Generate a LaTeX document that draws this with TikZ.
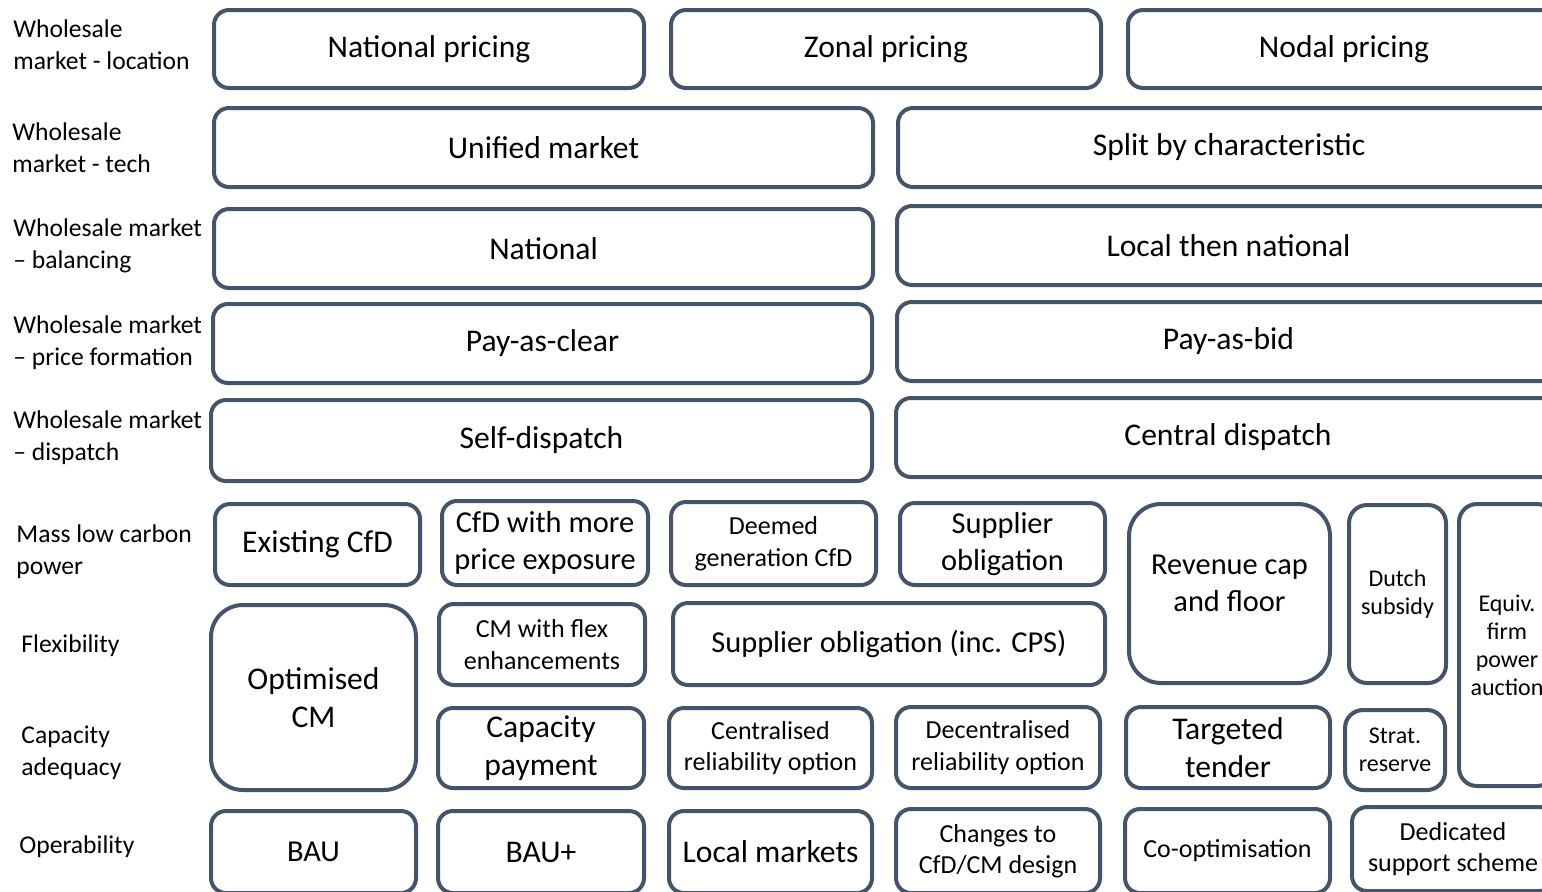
\documentclass[tikz,border=0pt]{standalone}
\usepackage{fontspec}
\setmainfont{Carlito}
\usepackage{tikz}

\definecolor{boxline}{HTML}{44546A}
\newcommand{\bigtxt}{\fontsize{15.8}{19}\selectfont}
\newcommand{\bigishtxt}{\fontsize{15.2}{18.4}\selectfont}
\newcommand{\midtxt}{\fontsize{13}{15.8}\selectfont}
\newcommand{\smalltxt}{\fontsize{12}{14}\selectfont}
\newcommand{\labtxt}{\fontsize{12.8}{16}\selectfont}

\tikzset{
    box/.style={draw=boxline,line width=2pt,rounded corners=7.5pt,inner sep=0pt,align=center,font=\bigtxt},
    roundbox/.style={box,rounded corners=16pt},
    slimbox/.style={box,rounded corners=9pt},
    dims/.style 2 args={minimum width=#1*0.5pt,minimum height=#2*0.5pt},
    rowlab/.style={anchor=west,align=left,inner sep=0pt,font=\labtxt}
}

\begin{document}
\begin{tikzpicture}[x=0.5pt,y=-0.5pt]
    \useasboundingbox (0,0) rectangle (1542,891);
    \clip (0,0) rectangle (1542,891);

    \node [rowlab] (lloc) at (13,44.5) {Wholesale\\market - location};
    \node [rowlab] (ltech) at (12,147.5) {Wholesale\\market - tech};
    \node [rowlab] (lbal) at (13,246) {Wholesale market\\– balancing};
    \node [rowlab] (lprice) at (13,342.5) {Wholesale market\\– price formation};
    \node [rowlab] (ldisp) at (13,438) {Wholesale market\\– dispatch};
    \node [rowlab] (lmass) at (16,552) {Mass low carbon\\power};
    \node [rowlab] (lflex) at (21,645.5) {Flexibility};
    \node [rowlab] (lcap) at (21,753) {Capacity\\adequacy};
    \node [rowlab] (lops) at (19,847) {Operability};

    \node [box,dims={430}{78}] (natprice) at (429,49) {National pricing};
    \node [box,dims={430}{78}] (zonprice) at (886,49) {Zonal pricing};
    \node [box,dims={432}{78}] (nodprice) at (1344,49) {Nodal pricing};

    \node [box,dims={659}{79}] (unified) at (543.5,147.5) {Unified market};
    \node [box,dims={662}{79}] (splitchar) at (1229,147.5) {Split by characteristic};

    \node [box,dims={659}{79}] (natbal) at (543.5,248.5) {National};
    \node [box,dims={663}{79}] (localnat) at (1228.5,245.5) {Local then national};

    \node [box,dims={659}{79}] (payclear) at (542.5,343.5) {Pay-as-clear};
    \node [box,dims={663}{79}] (paybid) at (1228.5,341.5) {Pay-as-bid};

    \node [box,dims={661}{81}] (selfdisp) at (541.5,440.5) {Self-dispatch};
    \node [box,dims={664}{79}] (centdisp) at (1228,437.5) {Central dispatch};

    \node [box,dims={205}{81}] (existcfd) at (317.5,544.5) {Existing CfD};
    \node [box,font=\bigishtxt,dims={206}{84}] (cfdmore) at (545,543) {CfD with more\\price exposure};
    \node [box,font=\midtxt,dims={205}{83}] (deemed) at (773.5,543.5) {Deemed\\generation CfD};
    \node [box,font=\bigishtxt,dims={205}{82}] (supob) at (1002.5,544) {Supplier\\obligation};
    \node [roundbox,dims={201}{179}] (revcap) at (1229.5,593.5) {};
    \node [font=\bigishtxt,align=center,inner sep=0pt] (revcaptxt) at (1229.5,583) {Revenue cap\\and floor};
    \node [slimbox,font=\smalltxt,dims={97}{178}] (dutch) at (1397.5,594) {Dutch\\subsidy};
    \node [slimbox,font=\smalltxt,dims={96}{282}] (equiv) at (1507,645) {Equiv.\\firm\\power\\auction};

    \node [roundbox,dims={205}{185}] (optcm) at (313.5,697.5) {Optimised\\CM};
    \node [box,font=\midtxt,dims={206}{81}] (cmflex) at (542,644.5) {CM with flex\\enhancements};
    \node [box,font=\bigishtxt,dims={432}{82}] (supobcps) at (889,644) {Supplier obligation (inc. CPS)};

    \node [box,dims={206}{80}] (cappay) at (541,748) {Capacity\\payment};
    \node [box,font=\midtxt,dims={203}{80}] (centro) at (770.5,748) {Centralised\\reliability option};
    \node [box,font=\midtxt,dims={204}{81}] (decentro) at (998,747.5) {Decentralised\\reliability option};
    \node [box,dims={204}{81}] (targeted) at (1228,747.5) {Targeted\\tender};
    \node [slimbox,font=\smalltxt,dims={100}{80}] (strat) at (1395,750) {Strat.\\reserve};

    \node [box,font=\bigishtxt,dims={205}{82}] (bau) at (313.5,852) {BAU};
    \node [box,dims={206}{82}] (bauplus) at (541,852) {BAU+};
    \node [box,dims={203}{82}] (localmkt) at (770.5,852) {Local markets};
    \node [box,font=\midtxt,dims={204}{84}] (changes) at (998,851) {Changes to\\CfD/CM design};
    \node [box,font=\midtxt,dims={205}{84}] (coopt) at (1227.5,851) {Co-optimisation};
    \node [box,font=\midtxt,dims={202}{84}] (dedicated) at (1453,849) {Dedicated\\support scheme};
\end{tikzpicture}
\end{document}
